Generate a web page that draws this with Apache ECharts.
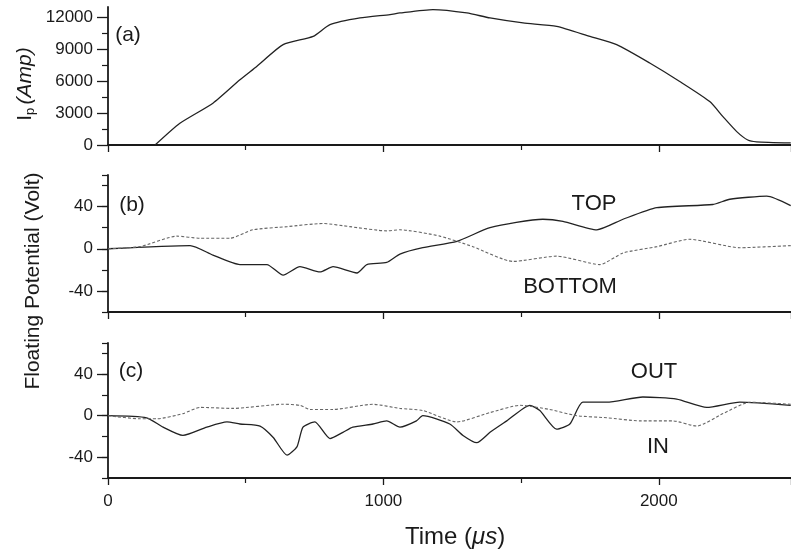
<!DOCTYPE html>
<html>
<head>
<meta charset="utf-8">
<script src="https://cdn.jsdelivr.net/npm/echarts@6/dist/echarts.min.js"></script>
<style>
  html, body { margin: 0; padding: 0; background: #fff; }
  #main { width: 791px; height: 552px; }
</style>
</head>
<body>
<div id="main"></div>
<script>
// panel (a): plasma current
var tIp = [171, 261, 381, 479, 540, 636, 745, 806, 915, 1024, 1060, 1180, 1303, 1387, 1507, 1629, 1750, 1847, 1967, 2076, 2185, 2233, 2283, 2323, 2355, 2479];
var ip = [0, 2050, 3940, 6140, 7400, 9450, 10230, 11340, 11970, 12290, 12440, 12760, 12440, 11970, 11500, 11180, 10230, 9450, 7720, 5980, 4090, 2670, 1260, 470, 300, 200];

// panel (b): TOP / BOTTOM
var tTop = [0, 298, 381, 479, 577, 636, 697, 770, 817, 904, 940, 1012, 1060, 1143, 1267, 1387, 1579, 1652, 1775, 1870, 1993, 2196, 2258, 2392, 2479];
var vTop = [0, 3, -6, -15, -15, -25, -17, -22, -17, -23, -15, -13, -5, 1, 7, 20, 28, 26, 18, 28, 39, 42, 47, 50, 41];
var tBottom = [0, 116, 250, 334, 443, 526, 650, 780, 878, 1012, 1060, 1205, 1325, 1470, 1629, 1786, 1870, 1993, 2112, 2294, 2479];
var vBottom = [0, 2, 12, 10, 10, 18, 21, 24, 21, 17, 18, 12, 2, -12, -7, -15, -4, 2, 9, 1, 3];

// panel (c): OUT / IN
var tOut = [0, 140, 200, 272, 359, 432, 479, 552, 600, 650, 686, 708, 751, 806, 853, 889, 962, 1012, 1060, 1120, 1143, 1241, 1289, 1339, 1387, 1448, 1532, 1568, 1629, 1677, 1724, 1811, 1942, 2065, 2174, 2294, 2479];
var vOut = [0, -2, -11, -19, -11, -6, -8, -10, -21, -38, -30, -11, -6, -22, -16, -11, -8, -5, -11, -5, 0, -8, -19, -26, -16, -5, 10, 5, -13, -8, 13, 13, 18, 16, 8, 13, 10];
var tIn = [0, 116, 177, 272, 334, 454, 636, 697, 733, 817, 962, 1060, 1143, 1267, 1387, 1496, 1604, 1702, 1811, 1931, 2051, 2138, 2233, 2330, 2479];
var vIn = [0, -3, -3, 2, 8, 7, 11, 10, 6, 6, 11, 7, 5, -6, 3, 10, 6, 0, -2, -5, -5, -10, 2, 13, 11];

var xTicks = [0, 1000, 2000];
var ipTicks = [0, 3000, 6000, 9000, 12000];
var vTicks = [-40, 0, 40];

function zip(a, b) {
    var out = [];
    for (var i = 0; i < a.length; i++) out.push([a[i], b[i]]);
    return out;
}

var font = 'Liberation Sans, Arial, sans-serif';
var ink = '#1a1a1a';

function xAxis(idx, showLabel) {
    return {
        type: 'value', gridIndex: idx, min: 0, max: 2480, interval: 1000,
        axisLine: { show: true, onZero: false, lineStyle: { color: ink, width: 1.8 } },
        axisTick: { show: true, length: 7, lineStyle: { color: ink, width: 1.3 } },
        minorTick: { show: true, splitNumber: 2, length: 5, lineStyle: { color: ink, width: 1.2 } },
        splitLine: { show: false },
        axisLabel: {
            show: showLabel, color: ink, fontSize: 17, fontFamily: font, margin: 15,
            showMaxLabel: false,
            formatter: function (v) { return xTicks.indexOf(v) >= 0 ? String(v) : ''; }
        }
    };
}

// main y axis: line, long ticks and labels at the labelled values
function yAxis(idx, min, max, interval, ticks, minor) {
    return {
        type: 'value', gridIndex: idx, position: 'left', min: min, max: max, interval: interval,
        axisLine: { show: true, lineStyle: { color: ink, width: 1.8 } },
        axisTick: { show: true, length: 11, customValues: ticks, lineStyle: { color: ink, width: 1.3 } },
        minorTick: { show: minor, splitNumber: 2, length: 6, lineStyle: { color: ink, width: 1.2 } },
        splitLine: { show: false },
        axisLabel: {
            color: ink, fontSize: 17, fontFamily: font, margin: 15, customValues: ticks,
            formatter: function (v) { return ticks.indexOf(v) >= 0 ? String(v) : ''; }
        }
    };
}

// helper y axis: only the short ticks every 20 V
function yTicks(idx) {
    return {
        type: 'value', gridIndex: idx, position: 'left', offset: 0, min: -60, max: 70, interval: 20,
        axisLine: { show: false },
        axisTick: { show: true, length: 6, lineStyle: { color: ink, width: 1.2 } },
        axisLabel: { show: false },
        splitLine: { show: false }
    };
}

function solid(name, x, y, data) {
    return {
        name: name, type: 'line', xAxisIndex: x, yAxisIndex: y, data: data,
        showSymbol: false, smooth: 0.2, lineStyle: { color: '#222', width: 1.3 }
    };
}
function dashed(name, x, y, data) {
    return {
        name: name, type: 'line', xAxisIndex: x, yAxisIndex: y, data: data,
        showSymbol: false, smooth: 0.2, lineStyle: { color: '#666', width: 1.1, type: [3, 2] }
    };
}

var chart = echarts.init(document.getElementById('main'));
var option = {
    backgroundColor: '#fff',
    animation: false,
    textStyle: { fontFamily: font },
    grid: [
        { left: 108, right: 0, top: 7, height: 138 },
        { left: 108, right: 0, top: 175, height: 137 },
        { left: 108, right: 0, top: 343, height: 135 }
    ],
    xAxis: [xAxis(0, false), xAxis(1, false), xAxis(2, true)],
    yAxis: [
        yAxis(0, 0, 13000, 3000, ipTicks, true),
        yAxis(1, -60, 70, 20, vTicks, false),
        yAxis(2, -60, 70, 20, vTicks, false),
        yTicks(1),
        yTicks(2)
    ],
    series: [
        solid('Ip', 0, 0, zip(tIp, ip)),
        solid('TOP', 1, 1, zip(tTop, vTop)),
        dashed('BOTTOM', 1, 1, zip(tBottom, vBottom)),
        solid('OUT', 2, 2, zip(tOut, vOut)),
        dashed('IN', 2, 2, zip(tIn, vIn))
    ],
    graphic: [
        { type: 'text', x: 128, y: 35, style: { text: '(a)', fontSize: 21, fontFamily: font, fill: ink, align: 'center', verticalAlign: 'middle' } },
        { type: 'text', x: 132, y: 205, style: { text: '(b)', fontSize: 21, fontFamily: font, fill: ink, align: 'center', verticalAlign: 'middle' } },
        { type: 'text', x: 131, y: 371, style: { text: '(c)', fontSize: 21, fontFamily: font, fill: ink, align: 'center', verticalAlign: 'middle' } },
        { type: 'text', x: 594, y: 204, style: { text: 'TOP', fontSize: 22, fontFamily: font, fill: ink, align: 'center', verticalAlign: 'middle' } },
        { type: 'text', x: 570, y: 287, style: { text: 'BOTTOM', fontSize: 22, fontFamily: font, fill: ink, align: 'center', verticalAlign: 'middle' } },
        { type: 'text', x: 654, y: 372, style: { text: 'OUT', fontSize: 22, fontFamily: font, fill: ink, align: 'center', verticalAlign: 'middle' } },
        { type: 'text', x: 658, y: 447, style: { text: 'IN', fontSize: 22, fontFamily: font, fill: ink, align: 'center', verticalAlign: 'middle' } },
        {
            type: 'text', x: 33, y: 281, rotation: Math.PI / 2,
            style: { text: 'Floating Potential (Volt)', fontSize: 21, fontFamily: font, fill: ink, align: 'center', verticalAlign: 'middle' }
        },
        {
            type: 'text', x: 25, y: 84, rotation: Math.PI / 2,
            style: {
                text: '{n|I}{s|p} {i|(Amp)}', align: 'center', verticalAlign: 'middle',
                rich: {
                    n: { fontSize: 21, fontFamily: font, fill: ink },
                    s: { fontSize: 13, fontFamily: font, fill: ink, verticalAlign: 'bottom', padding: [10, 0, 0, 0] },
                    i: { fontSize: 21, fontFamily: font, fontStyle: 'italic', fill: ink }
                }
            }
        },
        {
            type: 'text', x: 455, y: 537,
            style: {
                text: '{n|Time (}{i|\u03bcs}{n|)}', align: 'center', verticalAlign: 'middle',
                rich: {
                    n: { fontSize: 24, fontFamily: font, fill: ink },
                    i: { fontSize: 24, fontFamily: font, fontStyle: 'italic', fill: ink }
                }
            }
        }
    ]
};
option && chart.setOption(option);
</script>
</body>
</html>
